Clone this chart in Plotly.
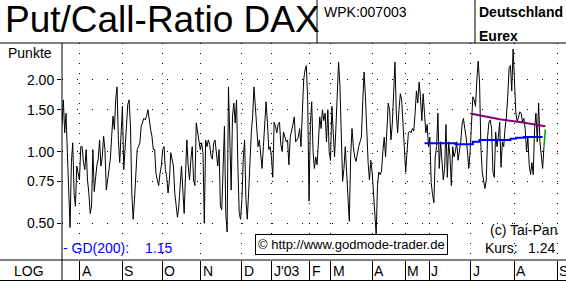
import plotly.graph_objects as go

W, H = 566, 281
ML, MR, MT, MB = 62, 0, 43, 21
PW, PH = W - ML - MR, H - MT - MB

# ---- data (daily Put/Call ratio, Jul 2002 .. Aug 2003) ----
ratio_q3_2002 = [
    1.30, 1.65, 1.20, 1.45, 0.99, 0.70, 0.48, 0.90, 1.09, 0.67,
    0.59, 0.87, 0.80, 0.76, 1.05, 1.05, 0.90, 0.84, 1.02, 0.76,
    0.67, 0.55, 0.59, 1.02, 0.68, 0.81, 0.88, 0.93, 1.12, 0.87,
    0.95, 1.16, 1.02, 0.69, 0.76, 0.85, 0.93, 1.16, 1.41, 1.24,
    1.65, 1.87, 1.12, 0.90, 1.28, 1.55, 0.84, 1.05, 1.24, 1.58,
    1.65, 1.28, 0.67, 0.52, 0.63, 0.81, 1.02, 1.05, 1.09, 1.28,
    1.32, 1.38, 1.36, 1.41, 1.50, 1.32, 1.24, 1.16, 1.02, 1.02,
    0.81, 0.76, 0.72, 0.81, 0.87,
]
ratio_q4_2002 = [
    1.02, 1.05, 0.84, 0.78, 0.67,
    0.76, 0.99, 0.92, 0.87, 0.67, 0.57, 0.53, 0.59, 0.74, 0.87,
    0.69, 0.55, 0.80, 1.12, 0.87, 0.76, 0.93, 1.05, 0.76, 0.72,
    1.32, 1.20, 1.12, 1.02, 1.09, 0.99, 0.50, 1.12, 1.05, 1.12,
    1.07, 0.96, 0.93, 1.09, 1.12, 0.98, 0.87, 1.02, 0.59, 0.57,
    0.99, 1.28, 0.55, 0.46, 1.87, 1.12, 0.69, 1.41, 1.60, 1.32,
    1.65, 0.87, 0.55, 0.52, 0.63, 0.93, 1.12, 0.63, 0.52, 0.67,
    0.93, 1.20, 1.41, 1.87, 1.55, 1.30, 1.05, 1.12,
]
ratio_jan_feb03 = [
    0.94, 0.85, 1.05, 1.35, 1.62, 1.33, 1.02, 1.05, 0.95, 0.78,
    1.33, 1.28, 1.20, 1.30, 1.33, 1.07, 1.00, 1.21, 1.15, 1.10,
    1.12, 0.88, 1.15, 1.25, 1.30, 1.40, 1.10, 1.12, 1.15, 1.25,
    1.05, 1.45, 2.00, 2.20, 2.30, 1.65,
]
ratio_mar_may03 = [
    0.62, 1.30, 1.62, 1.00, 0.85, 0.95, 0.88, 1.10, 1.40, 1.25,
    1.50, 1.35, 1.45, 1.10, 1.50, 1.00, 0.92, 1.55, 1.25, 0.95,
    1.25, 1.70, 2.38, 1.90, 1.15, 0.75, 0.85, 1.05, 0.82, 0.62,
    0.51, 0.95, 1.25, 1.05, 0.95, 0.91, 1.00, 1.05, 1.10, 1.15,
    1.62, 2.16, 1.70, 1.10, 0.90, 0.76, 0.92, 0.82, 0.65, 0.50,
    0.45, 0.72, 0.82, 0.80, 0.83, 1.00, 1.15, 0.95, 1.35, 1.60,
    1.50,
]
ratio_may_jul03 = [
    1.12, 1.30, 1.96, 2.38, 1.45, 1.20, 1.50, 1.75, 1.65, 1.25,
    1.05, 0.82, 1.00, 1.20, 1.22, 1.20, 1.25, 1.22, 1.45, 1.80,
    1.60, 1.96, 1.70, 1.35, 1.75, 1.35, 1.20, 1.30, 1.05, 1.15,
    0.74, 0.66, 0.61, 0.95, 1.05, 1.45, 0.85, 1.10, 0.90, 0.76,
    0.85, 1.30, 0.78, 1.10, 0.95, 0.72, 1.05, 0.95, 1.00, 1.10,
    0.92, 1.00, 1.10, 1.30, 1.38, 1.25, 1.15, 1.00, 0.85, 1.00,
    1.30,
]
ratio_jul_aug03 = [
    1.70, 1.65, 1.55, 2.00, 2.40, 1.96, 1.05, 0.82, 0.75, 0.70,
    0.76, 1.15, 1.33, 1.36, 1.25, 0.82, 0.78, 1.21, 1.05, 1.15,
    1.33, 0.86, 1.10, 1.05, 1.25, 1.40, 1.70, 2.25, 2.30, 1.80,
    2.70, 2.10, 1.47, 1.33, 1.40, 1.47, 1.45, 1.33, 1.38, 1.25,
    1.00, 1.15, 0.88, 0.80, 0.90, 0.80, 1.25, 1.45, 1.10, 1.60,
    1.10, 0.97, 0.85, 1.05, 1.24,
]
ratio = (ratio_q3_2002 + ratio_q4_2002 + ratio_jan_feb03 +
         ratio_mar_may03 + ratio_may_jul03 + ratio_jul_aug03)
days = list(range(len(ratio)))

# GD(200) moving average (step values) and falling trend average
gd_days = [270, 293, 306, 311, 334, 338, 344, 358]
gd_vals = [1.084, 1.074, 1.101, 1.119, 1.133, 1.144, 1.152, 1.152]
trend_days = [305, 326, 341, 351, 360]
trend_vals = [1.443, 1.367, 1.332, 1.306, 1.278]

month_pos = [13.4, 44.7, 74.5, 103.5, 133.7, 156.4, 184.4, 200.0,
             230.9, 255.5, 273.4, 304.3, 336.7, 368.7]
month_lbl = ["A", "S", "O", "N", "D", "J'03", "F", "M", "A", "M", "J", "J", "A", "S"]

y_ticks = [0.5, 0.75, 1.0, 1.5, 2.0]
y_ticktext = ["0.50", "0.75", "1.00", "1.50", "2.00"]

X_RANGE = [0, 375.4]
Y_RANGE = [-0.4551, 0.4564]

FONT = "Liberation Sans, Arial, sans-serif"


def px(xp):
    return (xp - ML) / PW


def py(yp):
    return (H - MB - yp) / PH


fig = go.Figure()
fig.add_trace(go.Scatter(x=days[:-1], y=ratio[:-1], mode="lines",
                         line=dict(color="black", width=1)))
fig.add_trace(go.Scatter(x=days[-2:], y=ratio[-2:], mode="lines",
                         line=dict(color="#00A000", width=1.5)))
fig.add_trace(go.Scatter(x=gd_days, y=gd_vals, mode="lines",
                         line=dict(color="#0000FF", width=2, shape="hv")))
fig.add_trace(go.Scatter(x=trend_days, y=trend_vals, mode="lines",
                         line=dict(color="#800080", width=2)))

ann = []


def text(x, y, s, size=14, anchor="left", color="black", bold=False, xref="paper", **kw):
    ann.append(dict(x=x, y=y, xref=xref, yref="paper", text=("<b>%s</b>" % s) if bold else s,
                    showarrow=False, xanchor=anchor, yanchor="middle",
                    font=dict(family=FONT, size=size, color=color), **kw))


text(px(2.5), py(20), "Put/Call-Ratio DAX", size=37)
text(px(322), py(12), "WPK:007003", size=14)
text(px(477), py(12), "Deutschland", size=14, bold=True)
text(px(477), py(36), "Eurex", size=14, bold=True)
text(px(54), py(53), "Punkte", size=14, anchor="right")
text(px(28.5), py(270.5), "LOG", size=14, anchor="center")
for p, lbl in zip(month_pos, month_lbl):
    text(p, py(270.5), lbl, size=14, xref="x", xshift=0)
text(px(61), py(248), "- GD(200):", size=14, color="#0000FF")
text(px(143), py(248), "1.15", size=14, color="#0000FF")
text(px(488), py(229.5), "(c) Tai-Pan", size=14)
text(px(483), py(248), "Kurs:", size=14)
text(px(557), py(248), "1.24", size=14, anchor="right")
ann.append(dict(x=px(351.6), y=py(244), xref="paper", yref="paper",
                text="© http://www.godmode-trader.de", showarrow=False,
                xanchor="center", yanchor="middle",
                font=dict(family=FONT, size=13, color="black"),
                bgcolor="white", bordercolor="black", borderwidth=1, borderpad=2))

line = dict(color="black", width=1)
shapes = [
    dict(type="line", xref="paper", yref="paper", x0=px(0), x1=1, y0=1, y1=1, line=line),
    dict(type="line", xref="paper", yref="paper", x0=px(0), x1=1, y0=0, y1=0, line=line),
    dict(type="line", xref="paper", yref="paper", x0=px(0), x1=1, y0=py(280.5), y1=py(280.5), line=line),
    dict(type="line", xref="paper", yref="paper", x0=0, x1=0, y0=py(281), y1=1, line=line),
    dict(type="line", xref="paper", yref="paper", x0=px(317), x1=px(317), y0=1, y1=py(0), line=line),
    dict(type="line", xref="paper", yref="paper", x0=px(475), x1=px(475), y0=1, y1=py(0), line=line),
]

fig.update_layout(
    width=W, height=H, margin=dict(l=ML, r=MR, t=MT, b=MB, pad=0),
    template="none", paper_bgcolor="white", plot_bgcolor="white",
    showlegend=False, annotations=ann, shapes=shapes,
    xaxis=dict(range=X_RANGE, tickvals=month_pos, showticklabels=False,
               ticks="outside", ticklen=20, tickcolor="black", tickwidth=1,
               showgrid=True, gridcolor="black", gridwidth=1, griddash="1px,9px",
               zeroline=False, showline=False, fixedrange=True),
    yaxis=dict(type="log", range=Y_RANGE, tickvals=y_ticks, ticktext=y_ticktext,
               ticks="outside", ticklen=4, tickcolor="black",
               tickfont=dict(family=FONT, size=14, color="black"),
               showgrid=True, gridcolor="black", gridwidth=1, griddash="1px,14px",
               zeroline=False, showline=False, fixedrange=True),
)

fig.write_html("out.html")
